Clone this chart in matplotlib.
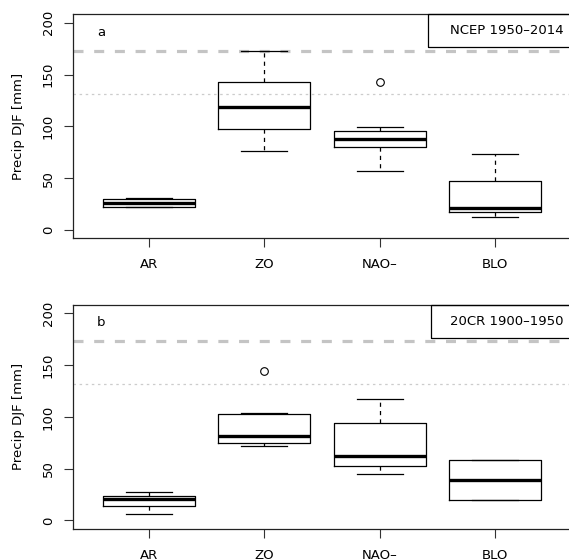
import matplotlib
matplotlib.use("Agg")
import matplotlib.pyplot as plt

plt.rcParams['font.family'] = ['DejaVu Sans']
plt.rcParams['lines.scale_dashes'] = False

categories = ["AR", "ZO", "NAO\u2013", "BLO"]

# Panel a: NCEP 1950-2014
a_whislo = [22.0, 75.9, 56.6, 12.8]
a_q1     = [22.5, 97.7, 80.4, 17.4]
a_med    = [26.3, 118.7, 87.5, 21.2]
a_q3     = [29.9, 142.5, 95.8, 47.0]
a_whishi = [30.5, 172.7, 99.1, 73.0]
a_fliers = [[], [], [142.8], []]
a_dashed = 172.7
a_dotted = 131.5

# Panel b: 20CR 1900-1950
b_whislo = [6.2, 71.7, 45.3, 19.3]
b_q1     = [13.5, 74.9, 52.4, 19.3]
b_med    = [20.9, 82.0, 62.7, 39.2]
b_q3     = [23.8, 103.2, 94.2, 58.5]
b_whishi = [27.0, 104.1, 117.6, 58.5]
b_fliers = [[], [144.6], [], []]
b_dashed = 173.0
b_dotted = 131.5

yticks = [0, 50, 100, 150, 200]
ylabel = "Precip DJF [mm]"

fig = plt.figure(figsize=(5.69, 5.60), dpi=100)

panels = [
    dict(pos=[73/569, (560-238.3)/560, 498/569, 224.3/560], lo=a_whislo, q1=a_q1, med=a_med,
         q3=a_q3, hi=a_whishi, fl=a_fliers, dashed=a_dashed, dotted=a_dotted,
         letter="a", title="NCEP 1950\u20132014", lx=428.3, lb=47.3, lt=14),
    dict(pos=[73/569, (560-528.7)/560, 498/569, 224.0/560], lo=b_whislo, q1=b_q1, med=b_med,
         q3=b_q3, hi=b_whishi, fl=b_fliers, dashed=b_dashed, dotted=b_dotted,
         letter="b", title="20CR 1900\u20131950", lx=431, lb=338.3, lt=304.7),
]

for p in panels:
    ax = fig.add_axes(p['pos'])
    ax.set_xlim(0.338, 4.662)
    ax.set_ylim(-8.0, 208.4)
    ax.axhline(p['dashed'], color='#c4c4c4', lw=2.3, dashes=(7.2, 7.7), zorder=1)
    ax.axhline(p['dotted'], color='#cccccc', lw=0.9, dashes=(1.8, 2.6), zorder=1)
    stats = []
    for i in range(len(categories)):
        stats.append(dict(whislo=p['lo'][i], q1=p['q1'][i], med=p['med'][i],
                          q3=p['q3'][i], whishi=p['hi'][i], fliers=p['fl'][i],
                          label=categories[i]))
    ax.bxp(stats, positions=[1, 2, 3, 4], widths=0.8, showfliers=True, patch_artist=False,
           boxprops=dict(color='black', lw=0.9),
           whiskerprops=dict(color='black', lw=0.9, dashes=(3, 3)),
           capprops=dict(color='black', lw=0.9),
           medianprops=dict(color='black', lw=2.4, solid_capstyle='butt'),
           flierprops=dict(marker='o', markerfacecolor='none', markeredgecolor='black',
                           markersize=5.5, markeredgewidth=0.8),
           capwidths=0.4)
    ax.set_yticks(yticks)
    ax.set_yticklabels([str(t) for t in yticks], rotation=90, va='center', fontsize=9.5)
    ax.set_xticks([1, 2, 3, 4])
    ax.set_xticklabels(categories, fontsize=9.5)
    ax.tick_params(axis='both', length=6.5, width=0.8, color='#333333')
    ax.tick_params(axis='y', pad=6.5)
    ax.tick_params(axis='x', pad=8)
    for s in ax.spines.values():
        s.set_linewidth(0.9)
        s.set_color('#222222')
    ax.set_ylabel(ylabel, fontsize=9.5)
    ax.yaxis.set_label_coords(-(73-25)/498, 0.5)
    ax.annotate(p['letter'], xy=(101/569, 1 - (p['lt'] + 18)/560), xycoords='figure fraction',
                ha='center', va='center', fontsize=9.5)
    # legend-style box
    x0 = p['lx']/569
    y0 = 1 - p['lb']/560
    h = (p['lb'] - p['lt'])/560
    rect = plt.Rectangle((x0, y0), 1.0 - x0 + 0.01, h, transform=fig.transFigure,
                         fill=False, edgecolor='black', lw=0.9, clip_on=False)
    fig.add_artist(rect)
    fig.text(564/569, y0 + h/2, p['title'], ha='right', va='center', fontsize=9.5)

fig.savefig("out.png", dpi=100)
